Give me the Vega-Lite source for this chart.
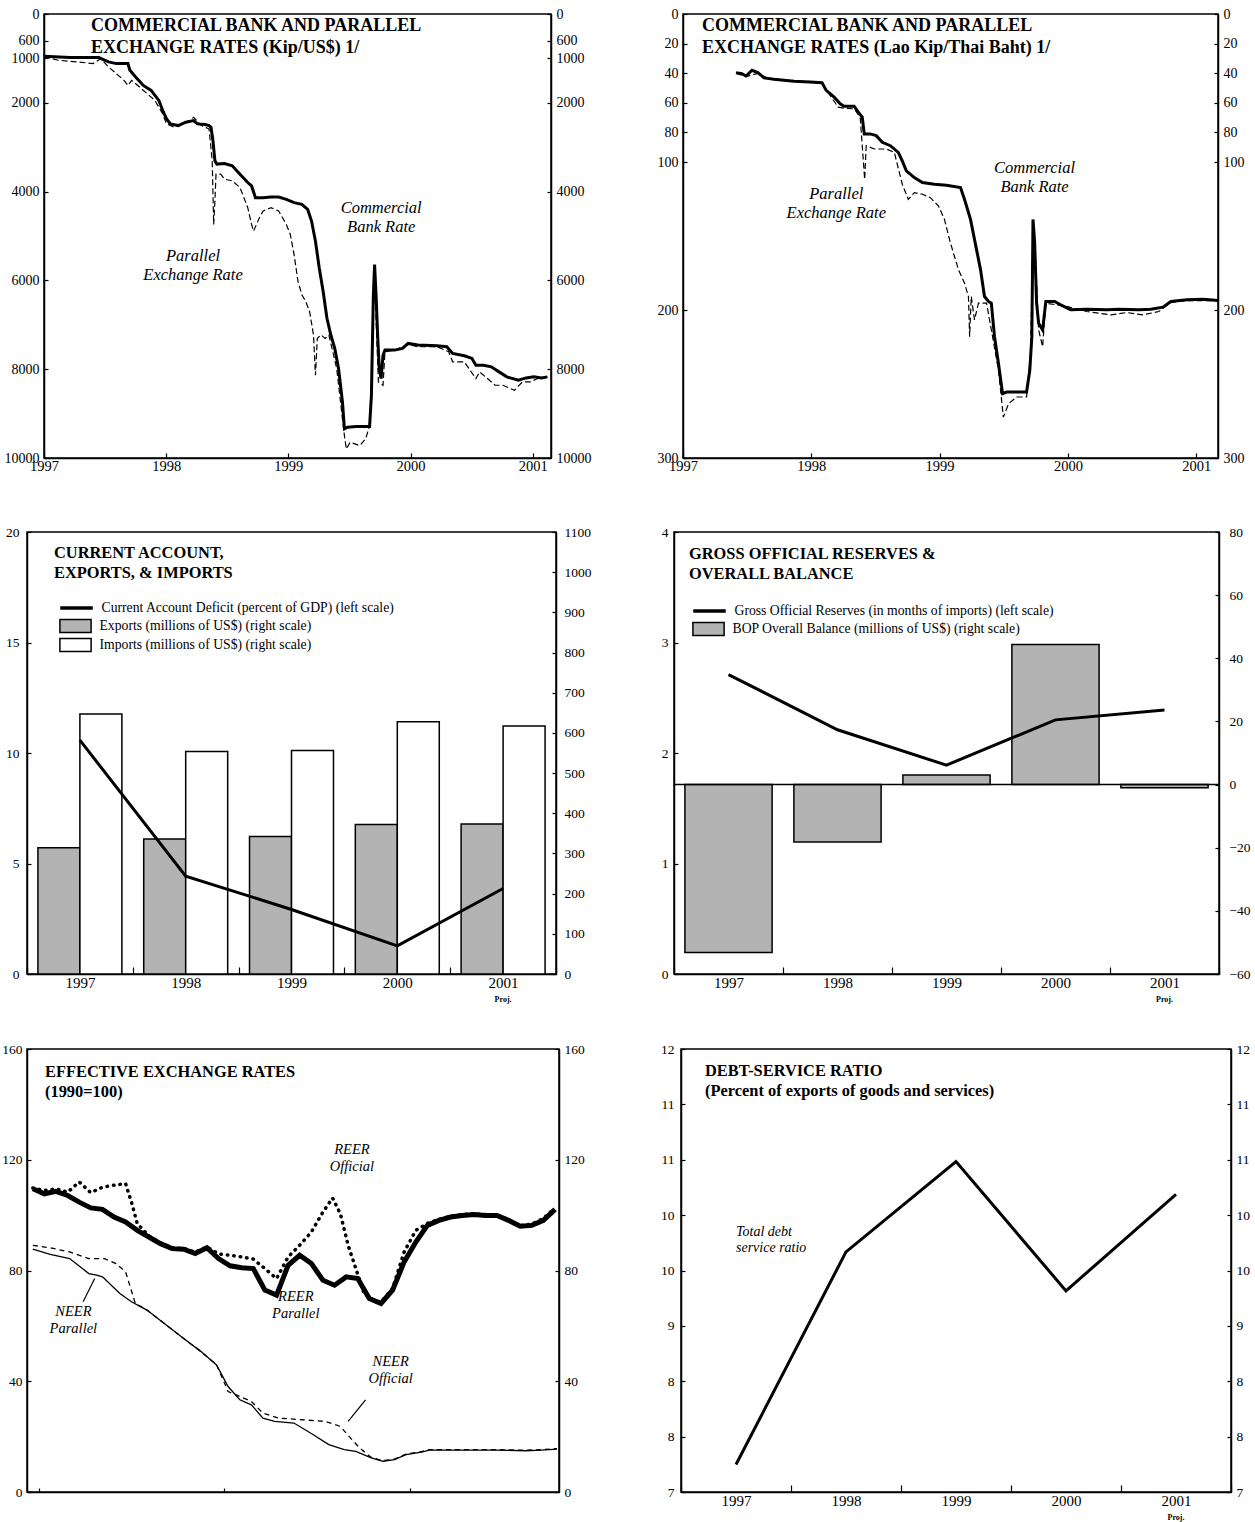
{
"$schema":"https://vega.github.io/schema/vega-lite/v6.json",
"background":"white",
"padding":{"left":1,"top":6,"right":0,"bottom":0},
"config":{
 "font":"Liberation Serif",
 "view":{"stroke":"black","strokeWidth":1.5},
 "axis":{"grid":false,"title":null,"domainColor":"black","domainWidth":1.5,"tickColor":"black","tickWidth":1.2,"labelColor":"black","labelFont":"Liberation Serif","labelFontSize":13.5,"labelFlush":false,"labelOverlap":false},
 "title":{"font":"Liberation Serif","fontWeight":"bold","color":"black","anchor":"start","frame":"group","baseline":"top","fontSize":16.4,"lineHeight":19.5},
 "legend":{"labelFont":"Liberation Serif","labelFontSize":13.7,"labelColor":"black","labelLimit":600,"padding":0,"symbolOpacity":1}
},
"datasets":{
 "p1c":[{"t":1997.0,"v":951},{"t":1997.212,"v":981},{"t":1997.449,"v":981},{"t":1997.528,"v":1079},{"t":1997.592,"v":1117},{"t":1997.687,"v":1117},{"t":1997.703,"v":1268},{"t":1997.75,"v":1419},{"t":1997.813,"v":1608},{"t":1997.877,"v":1721},{"t":1997.908,"v":1834},{"t":1997.94,"v":1947},{"t":1997.972,"v":2174},{"t":1998.003,"v":2362},{"t":1998.035,"v":2475},{"t":1998.098,"v":2513},{"t":1998.161,"v":2438},{"t":1998.225,"v":2400},{"t":1998.256,"v":2475},{"t":1998.32,"v":2490},{"t":1998.351,"v":2513},{"t":1998.367,"v":2551},{"t":1998.383,"v":2853},{"t":1998.399,"v":3306},{"t":1998.415,"v":3381},{"t":1998.478,"v":3366},{"t":1998.541,"v":3419},{"t":1998.604,"v":3607},{"t":1998.668,"v":3796},{"t":1998.699,"v":3872},{"t":1998.731,"v":4136},{"t":1998.794,"v":4136},{"t":1998.858,"v":4121},{"t":1998.921,"v":4121},{"t":1998.984,"v":4174},{"t":1999.047,"v":4249},{"t":1999.111,"v":4287},{"t":1999.158,"v":4400},{"t":1999.19,"v":4664},{"t":1999.222,"v":5117},{"t":1999.253,"v":5721},{"t":1999.285,"v":6249},{"t":1999.316,"v":6853},{"t":1999.348,"v":7230},{"t":1999.38,"v":7532},{"t":1999.411,"v":7985},{"t":1999.443,"v":8739},{"t":1999.459,"v":9343},{"t":1999.484,"v":9305},{"t":1999.554,"v":9290},{"t":1999.665,"v":9290},{"t":1999.68,"v":8588},{"t":1999.696,"v":6324},{"t":1999.706,"v":5645},{"t":1999.718,"v":6324},{"t":1999.731,"v":7230},{"t":1999.744,"v":7985},{"t":1999.759,"v":8211},{"t":1999.775,"v":7683},{"t":1999.791,"v":7570},{"t":1999.87,"v":7570},{"t":1999.934,"v":7532},{"t":1999.981,"v":7419},{"t":2000.06,"v":7456},{"t":2000.218,"v":7472},{"t":2000.297,"v":7494},{"t":2000.345,"v":7645},{"t":2000.44,"v":7698},{"t":2000.503,"v":7758},{"t":2000.535,"v":7909},{"t":2000.598,"v":7909},{"t":2000.661,"v":7947},{"t":2000.725,"v":8060},{"t":2000.788,"v":8173},{"t":2000.883,"v":8249},{"t":2000.946,"v":8196},{"t":2001.009,"v":8173},{"t":2001.073,"v":8196},{"t":2001.12,"v":8173}],
 "p1p":[{"t":1997.0,"v":966},{"t":1997.117,"v":1041},{"t":1997.275,"v":1079},{"t":1997.402,"v":1117},{"t":1997.465,"v":1004},{"t":1997.528,"v":1192},{"t":1997.655,"v":1494},{"t":1997.687,"v":1608},{"t":1997.718,"v":1494},{"t":1997.782,"v":1645},{"t":1997.845,"v":1796},{"t":1997.908,"v":1947},{"t":1997.972,"v":2249},{"t":1998.003,"v":2475},{"t":1998.066,"v":2551},{"t":1998.13,"v":2475},{"t":1998.193,"v":2400},{"t":1998.225,"v":2325},{"t":1998.288,"v":2513},{"t":1998.351,"v":2589},{"t":1998.377,"v":3306},{"t":1998.389,"v":4740},{"t":1998.399,"v":4211},{"t":1998.408,"v":3607},{"t":1998.446,"v":3607},{"t":1998.478,"v":3721},{"t":1998.541,"v":3758},{"t":1998.604,"v":3909},{"t":1998.668,"v":4362},{"t":1998.699,"v":4740},{"t":1998.715,"v":4890},{"t":1998.763,"v":4589},{"t":1998.794,"v":4438},{"t":1998.858,"v":4362},{"t":1998.921,"v":4438},{"t":1998.984,"v":4740},{"t":1999.016,"v":4966},{"t":1999.047,"v":5418},{"t":1999.079,"v":6023},{"t":1999.111,"v":6324},{"t":1999.142,"v":6475},{"t":1999.174,"v":6702},{"t":1999.206,"v":7230},{"t":1999.222,"v":8136},{"t":1999.237,"v":7305},{"t":1999.269,"v":7230},{"t":1999.301,"v":7305},{"t":1999.332,"v":7230},{"t":1999.364,"v":7607},{"t":1999.396,"v":7985},{"t":1999.427,"v":8739},{"t":1999.459,"v":9494},{"t":1999.475,"v":9796},{"t":1999.506,"v":9645},{"t":1999.585,"v":9720},{"t":1999.633,"v":9570},{"t":1999.665,"v":9268},{"t":1999.68,"v":8739},{"t":1999.696,"v":6475},{"t":1999.706,"v":5721},{"t":1999.718,"v":6853},{"t":1999.737,"v":8287},{"t":1999.775,"v":8362},{"t":1999.791,"v":7607},{"t":1999.87,"v":7570},{"t":1999.981,"v":7441},{"t":2000.06,"v":7494},{"t":2000.218,"v":7494},{"t":2000.313,"v":7607},{"t":2000.345,"v":7834},{"t":2000.44,"v":7834},{"t":2000.535,"v":8211},{"t":2000.566,"v":8060},{"t":2000.63,"v":8211},{"t":2000.693,"v":8362},{"t":2000.756,"v":8362},{"t":2000.851,"v":8475},{"t":2000.915,"v":8287},{"t":2000.978,"v":8287},{"t":2001.041,"v":8211},{"t":2001.12,"v":8173}],
 "a1":[{"t":1999.76,"v":4369,"label":"Commercial\nBank Rate"},{"t":1998.22,"v":5450,"label":"Parallel\nExchange Rate"}],
 "p2c":[{"t":1997.413,"v":39.6},{"t":1997.459,"v":40.3},{"t":1997.491,"v":41.9},{"t":1997.538,"v":38.0},{"t":1997.584,"v":39.6},{"t":1997.631,"v":43.2},{"t":1997.709,"v":44.1},{"t":1997.866,"v":45.5},{"t":1997.991,"v":46.0},{"t":1998.084,"v":46.4},{"t":1998.116,"v":51.6},{"t":1998.178,"v":56.1},{"t":1998.225,"v":60.7},{"t":1998.256,"v":62.3},{"t":1998.334,"v":62.3},{"t":1998.366,"v":66.3},{"t":1998.397,"v":69.7},{"t":1998.413,"v":81.0},{"t":1998.459,"v":81.0},{"t":1998.506,"v":82.2},{"t":1998.553,"v":86.7},{"t":1998.616,"v":89.0},{"t":1998.678,"v":93.5},{"t":1998.709,"v":99.2},{"t":1998.741,"v":106.0},{"t":1998.803,"v":110.5},{"t":1998.866,"v":113.9},{"t":1998.959,"v":115.0},{"t":1999.053,"v":115.7},{"t":1999.163,"v":117.3},{"t":1999.194,"v":125.2},{"t":1999.241,"v":138.8},{"t":1999.288,"v":159.2},{"t":1999.319,"v":172.7},{"t":1999.35,"v":190.9},{"t":1999.381,"v":194.2},{"t":1999.403,"v":195.4},{"t":1999.428,"v":218.0},{"t":1999.459,"v":236.1},{"t":1999.491,"v":256.5},{"t":1999.522,"v":255.4},{"t":1999.678,"v":255.4},{"t":1999.703,"v":240.7},{"t":1999.719,"v":218.0},{"t":1999.728,"v":138.8},{"t":1999.741,"v":154.6},{"t":1999.756,"v":195.4},{"t":1999.772,"v":209.0},{"t":1999.803,"v":213.5},{"t":1999.828,"v":194.2},{"t":1999.897,"v":194.2},{"t":1999.944,"v":196.5},{"t":2000.022,"v":199.9},{"t":2000.147,"v":199.5},{"t":2000.303,"v":199.9},{"t":2000.397,"v":199.5},{"t":2000.553,"v":199.9},{"t":2000.647,"v":199.5},{"t":2000.741,"v":198.1},{"t":2000.803,"v":194.2},{"t":2000.928,"v":193.1},{"t":2001.053,"v":192.7},{"t":2001.172,"v":193.6}],
 "p2p":[{"t":1997.413,"v":40.1},{"t":1997.491,"v":42.3},{"t":1997.584,"v":40.1},{"t":1997.678,"v":44.1},{"t":1997.866,"v":45.5},{"t":1998.084,"v":46.9},{"t":1998.147,"v":55.0},{"t":1998.209,"v":62.9},{"t":1998.256,"v":63.6},{"t":1998.334,"v":64.1},{"t":1998.381,"v":69.7},{"t":1998.416,"v":111.6},{"t":1998.428,"v":89.0},{"t":1998.491,"v":91.2},{"t":1998.584,"v":91.2},{"t":1998.647,"v":93.5},{"t":1998.709,"v":115.0},{"t":1998.756,"v":125.2},{"t":1998.803,"v":120.7},{"t":1998.866,"v":121.8},{"t":1998.928,"v":124.1},{"t":1998.991,"v":129.7},{"t":1999.038,"v":138.8},{"t":1999.084,"v":154.6},{"t":1999.147,"v":172.7},{"t":1999.194,"v":181.8},{"t":1999.225,"v":190.9},{"t":1999.234,"v":218.0},{"t":1999.247,"v":190.9},{"t":1999.272,"v":206.7},{"t":1999.303,"v":195.4},{"t":1999.366,"v":195.4},{"t":1999.413,"v":218.0},{"t":1999.459,"v":240.7},{"t":1999.497,"v":272.4},{"t":1999.538,"v":263.3},{"t":1999.6,"v":258.8},{"t":1999.678,"v":258.8},{"t":1999.709,"v":229.3},{"t":1999.728,"v":145.6},{"t":1999.747,"v":163.7},{"t":1999.772,"v":213.5},{"t":1999.803,"v":224.8},{"t":1999.828,"v":195.4},{"t":1999.991,"v":197.6},{"t":2000.147,"v":201.0},{"t":2000.334,"v":203.3},{"t":2000.459,"v":201.7},{"t":2000.584,"v":203.3},{"t":2000.709,"v":201.0},{"t":2000.803,"v":194.9},{"t":2000.928,"v":193.6},{"t":2001.172,"v":193.8}],
 "a2":[{"t":1999.74,"v":104,"label":"Commercial\nBank Rate"},{"t":1998.195,"v":121.6,"label":"Parallel\nExchange Rate"}],
 "p3b":[{"year":"1997","s":"Exports (millions of US$) (right scale)","v":314},{"year":"1997","s":"Imports (millions of US$) (right scale)","v":647},{"year":"1998","s":"Exports (millions of US$) (right scale)","v":336},{"year":"1998","s":"Imports (millions of US$) (right scale)","v":554},{"year":"1999","s":"Exports (millions of US$) (right scale)","v":342},{"year":"1999","s":"Imports (millions of US$) (right scale)","v":556},{"year":"2000","s":"Exports (millions of US$) (right scale)","v":372},{"year":"2000","s":"Imports (millions of US$) (right scale)","v":628},{"year":"2001","s":"Exports (millions of US$) (right scale)","v":373},{"year":"2001","s":"Imports (millions of US$) (right scale)","v":617}],
 "p3l":[{"year":"1997","s":"Current Account Deficit (percent of GDP) (left scale)","v":10.58},{"year":"1998","s":"Current Account Deficit (percent of GDP) (left scale)","v":4.43},{"year":"1999","s":"Current Account Deficit (percent of GDP) (left scale)","v":2.92},{"year":"2000","s":"Current Account Deficit (percent of GDP) (left scale)","v":1.27},{"year":"2001","s":"Current Account Deficit (percent of GDP) (left scale)","v":3.87}],
 "p4b":[{"year":"1997","s":"BOP Overall Balance (millions of US$) (right scale)","v":-53.2},{"year":"1998","s":"BOP Overall Balance (millions of US$) (right scale)","v":-18.2},{"year":"1999","s":"BOP Overall Balance (millions of US$) (right scale)","v":3.0},{"year":"2000","s":"BOP Overall Balance (millions of US$) (right scale)","v":44.4},{"year":"2001","s":"BOP Overall Balance (millions of US$) (right scale)","v":-1.0}],
 "p4l":[{"year":"1997","s":"Gross Official Reserves (in months of imports) (left scale)","v":2.71},{"year":"1998","s":"Gross Official Reserves (in months of imports) (left scale)","v":2.21},{"year":"1999","s":"Gross Official Reserves (in months of imports) (left scale)","v":1.89},{"year":"2000","s":"Gross Official Reserves (in months of imports) (left scale)","v":2.30},{"year":"2001","s":"Gross Official Reserves (in months of imports) (left scale)","v":2.39}],
 "p5rp":[{"t":1996.542,"v":109.5},{"t":1996.625,"v":107.7},{"t":1996.708,"v":108.6},{"t":1996.792,"v":107.1},{"t":1996.875,"v":104.7},{"t":1996.958,"v":102.6},{"t":1997.042,"v":102.1},{"t":1997.125,"v":99.3},{"t":1997.208,"v":97.5},{"t":1997.292,"v":94.5},{"t":1997.375,"v":92.1},{"t":1997.458,"v":89.7},{"t":1997.542,"v":87.9},{"t":1997.625,"v":87.7},{"t":1997.708,"v":86.1},{"t":1997.792,"v":88.2},{"t":1997.875,"v":84.3},{"t":1997.958,"v":81.7},{"t":1998.042,"v":81.0},{"t":1998.125,"v":80.7},{"t":1998.208,"v":72.9},{"t":1998.292,"v":71.1},{"t":1998.375,"v":81.9},{"t":1998.458,"v":85.5},{"t":1998.542,"v":82.5},{"t":1998.625,"v":76.5},{"t":1998.708,"v":74.7},{"t":1998.792,"v":77.7},{"t":1998.875,"v":77.1},{"t":1998.958,"v":69.9},{"t":1999.042,"v":68.1},{"t":1999.125,"v":72.9},{"t":1999.208,"v":83.1},{"t":1999.292,"v":90.3},{"t":1999.375,"v":96.3},{"t":1999.458,"v":98.1},{"t":1999.542,"v":99.3},{"t":1999.625,"v":99.9},{"t":1999.708,"v":100.2},{"t":1999.792,"v":99.9},{"t":1999.875,"v":99.9},{"t":1999.958,"v":98.1},{"t":2000.042,"v":96.0},{"t":2000.125,"v":96.3},{"t":2000.208,"v":98.1},{"t":2000.292,"v":102.1}],
 "p5ro":[{"t":1996.542,"v":109.8},{"t":1996.625,"v":108.9},{"t":1996.708,"v":109.5},{"t":1996.792,"v":108.3},{"t":1996.875,"v":112.0},{"t":1996.958,"v":108.1},{"t":1997.042,"v":110.1},{"t":1997.125,"v":110.8},{"t":1997.208,"v":111.4},{"t":1997.25,"v":104.7},{"t":1997.292,"v":96.9},{"t":1997.375,"v":92.5},{"t":1997.458,"v":90.0},{"t":1997.542,"v":88.2},{"t":1997.625,"v":88.0},{"t":1997.708,"v":86.6},{"t":1997.792,"v":88.5},{"t":1997.875,"v":86.0},{"t":1997.958,"v":85.5},{"t":1998.042,"v":84.9},{"t":1998.125,"v":84.1},{"t":1998.208,"v":80.7},{"t":1998.292,"v":77.1},{"t":1998.375,"v":84.9},{"t":1998.458,"v":89.1},{"t":1998.542,"v":93.9},{"t":1998.625,"v":101.1},{"t":1998.694,"v":106.2},{"t":1998.75,"v":100.5},{"t":1998.806,"v":89.1},{"t":1998.861,"v":80.7},{"t":1998.917,"v":72.3},{"t":1998.958,"v":69.9},{"t":1999.042,"v":68.5},{"t":1999.125,"v":73.5},{"t":1999.208,"v":86.7},{"t":1999.292,"v":94.5},{"t":1999.375,"v":97.0},{"t":1999.458,"v":98.5},{"t":1999.542,"v":99.6},{"t":1999.625,"v":100.2},{"t":1999.708,"v":100.5},{"t":1999.792,"v":100.2},{"t":1999.875,"v":100.0},{"t":1999.958,"v":98.2},{"t":2000.042,"v":96.2},{"t":2000.125,"v":96.8},{"t":2000.208,"v":98.8},{"t":2000.292,"v":102.6}],
 "p5np":[{"t":1996.542,"v":87.7},{"t":1996.667,"v":85.8},{"t":1996.806,"v":84.3},{"t":1996.944,"v":78.9},{"t":1997.0,"v":78.3},{"t":1997.042,"v":77.7},{"t":1997.167,"v":71.7},{"t":1997.25,"v":68.7},{"t":1997.361,"v":65.7},{"t":1997.5,"v":60.3},{"t":1997.639,"v":54.9},{"t":1997.75,"v":50.7},{"t":1997.861,"v":45.9},{"t":1997.944,"v":38.1},{"t":1998.028,"v":33.3},{"t":1998.111,"v":31.5},{"t":1998.194,"v":26.7},{"t":1998.278,"v":25.5},{"t":1998.417,"v":24.9},{"t":1998.556,"v":20.7},{"t":1998.667,"v":17.1},{"t":1998.778,"v":15.3},{"t":1998.861,"v":14.7},{"t":1998.972,"v":12.3},{"t":1999.056,"v":11.1},{"t":1999.139,"v":11.7},{"t":1999.222,"v":13.5},{"t":1999.333,"v":14.4},{"t":1999.389,"v":15.1},{"t":1999.583,"v":15.1},{"t":1999.861,"v":15.1},{"t":2000.083,"v":14.9},{"t":2000.194,"v":15.1},{"t":2000.306,"v":15.5}],
 "p5no":[{"t":1996.542,"v":89.1},{"t":1996.667,"v":88.2},{"t":1996.806,"v":86.7},{"t":1996.944,"v":84.3},{"t":1997.056,"v":84.3},{"t":1997.139,"v":82.5},{"t":1997.208,"v":79.5},{"t":1997.278,"v":68.1},{"t":1997.361,"v":65.7},{"t":1997.5,"v":60.3},{"t":1997.639,"v":54.9},{"t":1997.75,"v":50.7},{"t":1997.861,"v":45.9},{"t":1997.944,"v":36.3},{"t":1998.028,"v":34.5},{"t":1998.111,"v":32.7},{"t":1998.194,"v":28.5},{"t":1998.306,"v":26.7},{"t":1998.472,"v":26.1},{"t":1998.639,"v":25.5},{"t":1998.75,"v":23.7},{"t":1998.833,"v":18.9},{"t":1998.889,"v":15.9},{"t":1998.972,"v":12.5},{"t":1999.056,"v":11.3},{"t":1999.139,"v":11.9},{"t":1999.222,"v":13.7},{"t":1999.333,"v":14.6},{"t":1999.389,"v":15.3},{"t":1999.583,"v":15.3},{"t":1999.861,"v":15.3},{"t":2000.083,"v":15.1},{"t":2000.194,"v":15.3},{"t":2000.306,"v":15.7}],
 "a5":[{"t":1998.833,"v":123.5,"label":"REER\nOfficial"},{"t":1998.43,"v":70.5,"label":"REER\nParallel"},{"t":1996.833,"v":65.1,"label":"NEER\nParallel"},{"t":1999.111,"v":47.1,"label":"NEER\nOfficial"}],
 "l5":[{"t":1996.986,"v":77.1,"t2":1996.903,"v2":68.7},{"t":1998.931,"v":33.3,"t2":1998.806,"v2":25.5}],
 "p6":[{"year":"1997","v":7.31},{"year":"1998","v":9.71},{"year":"1999","v":10.73},{"year":"2000","v":9.27},{"year":"2001","v":10.36}],
 "a6":[{"year":"1997","v":9.94,"label":"Total debt\nservice ratio"}]
},
"resolve":{"scale":{"fill":"independent","stroke":"independent"},"legend":{"fill":"independent","stroke":"independent"}},
"spacing":37,
"vconcat":[
 {"spacing":-25,
  "resolve":{"scale":{"fill":"independent","stroke":"independent"},"legend":{"fill":"independent","stroke":"independent"}},
  "hconcat":[
  {"width":1,"height":1,"data":{"values":[]},"mark":"point","encoding":{},"view":{"stroke":null}},
  {"spacing":64,
   "resolve":{"scale":{"fill":"independent","stroke":"independent"},"legend":{"fill":"independent","stroke":"independent"}},
   "hconcat":[
   {"width":507,"height":444,
    "title":{"text":["COMMERCIAL BANK AND PARALLEL","EXCHANGE RATES (Kip/US$) 1/"],"fontSize":18,"lineHeight":22,"dx":47,"offset":-50},
    "resolve":{"axis":{"y":"independent"}},
    "layer":[
     {"data":{"name":"p1p"},"mark":{"type":"line","color":"black","strokeWidth":1.2,"strokeDash":[6,3]},
      "encoding":{"x":{"field":"t","type":"quantitative","scale":{"domain":[1997,2001.15],"nice":false,"zero":false},"axis":{"values":[1997,1997.25,1997.5,1997.75,1998,1998.25,1998.5,1998.75,1999,1999.25,1999.5,1999.75,2000,2000.25,2000.5,2000.75,2001],"format":"d","labelExpr":"floor(datum.value) == datum.value ? datum.label : ''","tickSize":-5,"labelPadding":6,"labelFontSize":14.5,"title":"\u00a0","titleFontSize":9,"titlePadding":4}},
       "y":{"field":"v","type":"quantitative","scale":{"domain":[0,10000],"reverse":true,"nice":false,"zero":false},"axis":{"orient":"left","values":[0,600,1000,2000,4000,6000,8000,10000],"format":"d","tickSize":-4,"labelPadding":9,"labelFontSize":14}}}},
     {"data":{"name":"p1c"},"mark":{"type":"line","color":"black","strokeWidth":3},
      "encoding":{"x":{"field":"t","type":"quantitative"},"y":{"field":"v","type":"quantitative","axis":{"orient":"right","values":[0,600,1000,2000,4000,6000,8000,10000],"format":"d","tickSize":-4,"labelPadding":9,"labelFontSize":14}}}},
     {"data":{"name":"a1"},"mark":{"type":"text","font":"Liberation Serif","fontStyle":"italic","fontSize":16.5,"lineBreak":"\n","lineHeight":19,"align":"center","baseline":"middle","color":"black"},
      "encoding":{"x":{"field":"t","type":"quantitative"},"y":{"field":"v","type":"quantitative","axis":null},"text":{"field":"label"}}}
    ]},
   {"width":535,"height":444,
    "title":{"text":["COMMERCIAL BANK AND PARALLEL","EXCHANGE RATES (Lao Kip/Thai Baht) 1/"],"fontSize":18,"lineHeight":22,"dx":19,"offset":-50},
    "resolve":{"axis":{"y":"independent"}},
    "layer":[
     {"data":{"name":"p2p"},"mark":{"type":"line","color":"black","strokeWidth":1.2,"strokeDash":[6,3]},
      "encoding":{"x":{"field":"t","type":"quantitative","scale":{"domain":[1997,2001.17],"nice":false,"zero":false},"axis":{"values":[1997,1997.25,1997.5,1997.75,1998,1998.25,1998.5,1998.75,1999,1999.25,1999.5,1999.75,2000,2000.25,2000.5,2000.75,2001],"format":"d","labelExpr":"floor(datum.value) == datum.value ? datum.label : ''","tickSize":-5,"labelPadding":6,"labelFontSize":14.5}},
       "y":{"field":"v","type":"quantitative","scale":{"domain":[0,300],"reverse":true,"nice":false,"zero":false},"axis":{"orient":"left","values":[0,20,40,60,80,100,200,300],"format":"d","tickSize":-4,"labelPadding":9,"labelFontSize":14}}}},
     {"data":{"name":"p2c"},"mark":{"type":"line","color":"black","strokeWidth":3},
      "encoding":{"x":{"field":"t","type":"quantitative"},"y":{"field":"v","type":"quantitative","axis":{"orient":"right","values":[0,20,40,60,80,100,200,300],"format":"d","tickSize":-4,"labelPadding":9,"labelFontSize":14}}}},
     {"data":{"name":"a2"},"mark":{"type":"text","font":"Liberation Serif","fontStyle":"italic","fontSize":16.5,"lineBreak":"\n","lineHeight":19,"align":"center","baseline":"middle","color":"black"},
      "encoding":{"x":{"field":"t","type":"quantitative"},"y":{"field":"v","type":"quantitative","axis":null},"text":{"field":"label"}}}
    ]}
  ]}
 ]},
 {"spacing":68,
  "resolve":{"scale":{"fill":"independent","stroke":"independent"},"legend":{"fill":"independent","stroke":"independent"}},
  "hconcat":[
  {"width":529,"height":442,
   "title":{"text":["CURRENT ACCOUNT,","EXPORTS, & IMPORTS"],"dx":27,"offset":-56},
   "resolve":{"scale":{"y":"independent"},"axis":{"x":"independent","y":"independent"}},
   "layer":[
    {"data":{"name":"p3b"},"mark":{"type":"bar","stroke":"black","strokeWidth":1.5},
     "encoding":{
      "x":{"field":"year","type":"nominal","scale":{"paddingInner":0,"paddingOuter":0},"axis":{"orient":"bottom","tickBand":"extent","labelAngle":0,"tickSize":-7,"labelPadding":8,"labelFontSize":15}},
      "xOffset":{"field":"s","type":"nominal","scale":{"paddingInner":0,"paddingOuter":0.26}},
      "y":{"field":"v","type":"quantitative","scale":{"domain":[0,1100],"nice":false},"axis":{"orient":"right","values":[0,100,200,300,400,500,600,700,800,900,1000,1100],"format":"d","tickSize":-4,"labelPadding":12}},
      "fill":{"field":"s","type":"nominal","scale":{"domain":["Exports (millions of US$) (right scale)","Imports (millions of US$) (right scale)"],"range":["#b3b3b3","white"]},
       "legend":{"orient":"none","legendX":41,"legendY":86.5,"title":null,"symbolType":"M-2.4,-1H2.4V1H-2.4Z","symbolSize":169,"symbolStrokeColor":"black","symbolStrokeWidth":1.5,"labelOffset":16.5,"rowPadding":0}}}},
    {"data":{"name":"p3l"},"mark":{"type":"line","strokeWidth":3},
     "encoding":{
      "x":{"field":"year","type":"nominal","axis":{"orient":"bottom","domain":false,"ticks":false,"labelAngle":0,"labelExpr":"datum.value == '2001' ? 'Proj.' : ''","labelFontSize":8,"labelFontWeight":"bold","labelPadding":2,"offset":19}},
      "y":{"field":"v","type":"quantitative","scale":{"domain":[0,20],"nice":false},"axis":{"orient":"left","values":[0,5,10,15,20],"tickSize":-4,"labelPadding":12}},
      "stroke":{"field":"s","type":"nominal","scale":{"range":["black"]},
       "legend":{"orient":"none","legendX":41,"legendY":67.5,"title":null,"symbolType":"M-2.5,0H2.5","symbolSize":169,"symbolStrokeWidth":3.5,"symbolStrokeColor":"black","labelOffset":16.5}}}}
   ]},
  {"width":545,"height":442,
   "title":{"text":["GROSS OFFICIAL RESERVES &","OVERALL BALANCE"],"dx":15,"offset":-57},
   "resolve":{"scale":{"y":"independent"},"axis":{"x":"independent","y":"independent"}},
   "layer":[
    {"data":{"name":"p4b"},"mark":{"type":"bar","stroke":"black","strokeWidth":1.5,"width":{"band":0.8}},
     "encoding":{
      "x":{"field":"year","type":"nominal","scale":{"paddingInner":0,"paddingOuter":0},"axis":{"orient":"bottom","tickBand":"extent","labelAngle":0,"tickSize":-7,"labelPadding":8,"labelFontSize":15}},
      "y":{"field":"v","type":"quantitative","scale":{"domain":[-60,80],"nice":false},"axis":{"orient":"right","values":[-60,-40,-20,0,20,40,60,80],"format":"d","tickSize":-4,"labelPadding":14}},
      "fill":{"field":"s","type":"nominal","scale":{"range":["#b3b3b3"]},
       "legend":{"orient":"none","legendX":27,"legendY":89.5,"title":null,"symbolType":"M-2.4,-1H2.4V1H-2.4Z","symbolSize":169,"symbolStrokeColor":"black","symbolStrokeWidth":1.5,"labelOffset":16.5}}}},
    {"data":{"values":[{"zero":0}]},"mark":{"type":"rule","color":"black","strokeWidth":1.5},
     "encoding":{"y":{"field":"zero","type":"quantitative","scale":{"domain":[-60,80],"nice":false},"axis":null}}},
    {"data":{"name":"p4l"},"mark":{"type":"line","strokeWidth":3},
     "encoding":{
      "x":{"field":"year","type":"nominal","axis":{"orient":"bottom","domain":false,"ticks":false,"labelAngle":0,"labelExpr":"datum.value == '2001' ? 'Proj.' : ''","labelFontSize":8,"labelFontWeight":"bold","labelPadding":2,"offset":19}},
      "y":{"field":"v","type":"quantitative","scale":{"domain":[0,4],"nice":false},"axis":{"orient":"left","values":[0,1,2,3,4],"tickSize":-4,"labelPadding":10}},
      "stroke":{"field":"s","type":"nominal","scale":{"range":["black"]},
       "legend":{"orient":"none","legendX":27,"legendY":70.5,"title":null,"symbolType":"M-2.5,0H2.5","symbolSize":169,"symbolStrokeWidth":3.5,"symbolStrokeColor":"black","labelOffset":16.5}}}}
   ]}
 ]},
 {"spacing":74,
  "resolve":{"scale":{"fill":"independent","stroke":"independent"},"legend":{"fill":"independent","stroke":"independent"}},
  "hconcat":[
  {"width":532,"height":443,
   "title":{"text":["EFFECTIVE EXCHANGE RATES","(1990=100)"],"dx":18,"offset":-58},
   "resolve":{"axis":{"y":"independent"}},
   "layer":[
    {"data":{"name":"p5no"},"mark":{"type":"line","color":"black","strokeWidth":1.3,"strokeDash":[5,4]},
     "encoding":{"x":{"field":"t","type":"quantitative","scale":{"domain":[1996.5,2000.32],"nice":false,"zero":false},"axis":{"values":[1996.5833,1996.6667,1996.75,1996.8333,1996.9167,1997,1997.0833,1997.1667,1997.25,1997.3333,1997.4167,1997.5,1997.5833,1997.6667,1997.75,1997.8333,1997.9167,1998,1998.0833,1998.1667,1998.25,1998.3333,1998.4167,1998.5,1998.5833,1998.6667,1998.75,1998.8333,1998.9167,1999,1999.0833,1999.1667,1999.25,1999.3333,1999.4167,1999.5,1999.5833,1999.6667,1999.75,1999.8333,1999.9167,2000,2000.0833,2000.1667,2000.25],"format":"d","labelExpr":"floor(datum.value) == datum.value ? datum.label : ''","tickSize":-4,"labelPadding":7,"labelFontSize":15}},
      "y":{"field":"v","type":"quantitative","scale":{"domain":[0,160],"nice":false},"axis":{"orient":"left","values":[0,40,80,120,160],"format":"d","tickSize":-4,"labelPadding":9}}}},
    {"data":{"name":"p5np"},"mark":{"type":"line","color":"black","strokeWidth":1.3},
     "encoding":{"x":{"field":"t","type":"quantitative"},"y":{"field":"v","type":"quantitative","axis":null}}},
    {"data":{"name":"p5ro"},"mark":{"type":"line","color":"black","strokeWidth":3.5,"strokeDash":[0.5,6],"strokeCap":"round"},
     "encoding":{"x":{"field":"t","type":"quantitative"},"y":{"field":"v","type":"quantitative","axis":null}}},
    {"data":{"name":"p5rp"},"mark":{"type":"line","color":"black","strokeWidth":5},
     "encoding":{"x":{"field":"t","type":"quantitative"},"y":{"field":"v","type":"quantitative","axis":{"orient":"right","values":[0,40,80,120,160],"format":"d","tickSize":-4,"labelPadding":9}}}},
    {"data":{"name":"l5"},"mark":{"type":"rule","color":"black","strokeWidth":1.2},
     "encoding":{"x":{"field":"t","type":"quantitative"},"y":{"field":"v","type":"quantitative","axis":null},"x2":{"field":"t2"},"y2":{"field":"v2"}}},
    {"data":{"name":"a5"},"mark":{"type":"text","font":"Liberation Serif","fontStyle":"italic","fontSize":14.5,"lineBreak":"\n","lineHeight":17,"align":"center","baseline":"middle","color":"black"},
     "encoding":{"x":{"field":"t","type":"quantitative"},"y":{"field":"v","type":"quantitative","axis":null},"text":{"field":"label"}}}
   ]},
  {"width":550,"height":443,
   "title":{"text":["DEBT-SERVICE RATIO","(Percent of exports of goods and services)"],"dx":24,"offset":-57},
   "resolve":{"axis":{"x":"independent","y":"independent"}},
   "layer":[
    {"data":{"name":"p6"},"mark":{"type":"line","color":"black","strokeWidth":3},
     "encoding":{
      "x":{"field":"year","type":"nominal","scale":{"paddingInner":0,"paddingOuter":0},"axis":{"orient":"bottom","tickBand":"extent","labelAngle":0,"tickSize":-7,"labelPadding":8,"labelFontSize":15}},
      "y":{"field":"v","type":"quantitative","scale":{"domain":[7,12],"nice":false,"zero":false},"axis":{"orient":"left","values":[7,7.625,8.25,8.875,9.5,10.125,10.75,11.375,12],"format":".0f","tickSize":-4,"labelPadding":11}}}},
    {"data":{"name":"a6"},"mark":{"type":"text","font":"Liberation Serif","fontStyle":"italic","fontSize":14,"lineBreak":"\n","lineHeight":16,"align":"left","baseline":"middle","color":"black"},
     "encoding":{
      "x":{"field":"year","type":"nominal","axis":{"orient":"bottom","domain":false,"ticks":false,"labelAngle":0,"labelExpr":"datum.value == '2001' ? 'Proj.' : ''","labelFontSize":8,"labelFontWeight":"bold","labelPadding":2,"offset":19}},
      "y":{"field":"v","type":"quantitative","axis":{"orient":"right","values":[7,7.625,8.25,8.875,9.5,10.125,10.75,11.375,12],"format":".0f","tickSize":-4,"labelPadding":9}},
      "text":{"field":"label"}}}
   ]}
 ]}
]
}
